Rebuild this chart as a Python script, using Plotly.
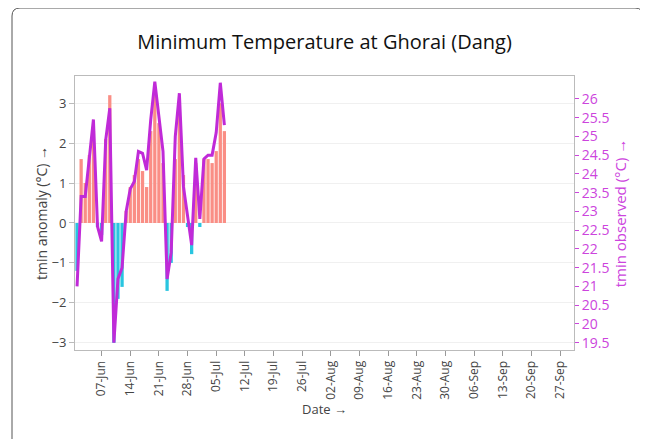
import plotly.graph_objects as go
import pandas as pd

# ---- data ----
dates = pd.date_range("2024-06-01", "2024-07-07", freq="D")
anomaly = [-1.2, 1.6, 1.0, 1.7, 2.3, -0.1, -0.3, 2.1, 3.2, -3.0,
           -1.9, -1.6, 0.3, 0.9, 1.2, 1.6, 1.3, 0.9, 2.3, 3.2,
           2.5, 1.5, -1.7, -1.0, 1.6, 2.9, 1.2, -0.1, -0.78, 1.5,
           -0.1, 1.6, 1.6, 1.5, 1.8, 3.0, 2.3]
observed = [21.0, 23.4, 23.4, 24.4, 25.45, 22.6, 22.2, 24.9, 25.75, 19.5,
            21.2, 21.5, 23.0, 23.6, 23.8, 24.6, 24.55, 24.1, 25.44, 26.46,
            25.6, 24.6, 21.2, 21.9, 25.0, 26.15, 23.66, 22.8, 22.1, 24.43,
            22.8, 24.4, 24.5, 24.5, 25.1, 26.43, 25.3]
y2_ticks = [19.5, 20, 20.5, 21, 21.5, 22, 22.5, 23, 23.5, 24, 24.5, 25, 25.5, 26]
title_text = "Minimum Temperature at Ghorai (Dang)"

# page body adds an 8px offset; work in screen pixels minus that offset
OFF = 8
W, H = 648 - OFF, 439 - OFF
L, T = 75 - OFF, 76 - OFF
R = W - (574 - OFF)
B = H - (350 - OFF)
pw, ph = W - L - R, H - T - B

def px(x):
    return (x - OFF - L) / pw

def py(y):
    return (H - B - (y - OFF)) / ph

bar_colors = ["#FA8E85" if v >= 0 else "#29C5E0" for v in anomaly]

fig = go.Figure()
fig.add_trace(go.Bar(x=dates, y=anomaly, marker_color=bar_colors,
                     marker_line_width=0, showlegend=False, yaxis="y"))
fig.add_trace(go.Scatter(x=dates, y=observed, mode="lines",
                         line=dict(color="#C02AD8", width=3),
                         showlegend=False, yaxis="y2"))

def rounded_top(x0, y0, x1, y1, r):
    return " ".join([
        f"M{px(x0)},{py(y1)}",
        f"L{px(x0)},{py(y0 + r)}",
        f"Q{px(x0)},{py(y0)} {px(x0 + r)},{py(y0)}",
        f"L{px(x1 - r)},{py(y0)}",
        f"Q{px(x1)},{py(y0)} {px(x1)},{py(y0 + r)}",
        f"L{px(x1)},{py(y1)}",
    ])

shapes = [
    dict(type="path", xref="paper", yref="paper",
         path=rounded_top(12, 8, 643, 460, 8),
         line=dict(color="#555555", width=1)),
]

fig.update_layout(
    width=W, height=H,
    margin=dict(l=L, r=R, t=T, b=B, autoexpand=False),
    paper_bgcolor="white", plot_bgcolor="white",
    font=dict(family="Open Sans", color="#444444", size=12),
    title=dict(text=title_text, x=0.5, xref="paper", y=1 - (42 - OFF) / H, yanchor="middle",
               font=dict(size=20, color="#111111")),
    bargap=0.2,
    shapes=shapes,
    xaxis=dict(
        type="date", automargin=True,
        range=["2024-05-31 12:00", "2024-09-30 10:00"],
        tick0="2024-06-07", dtick=7 * 86400000, tickformat="%d-%b",
        tickangle=-90, ticks="outside", ticklen=5, tickcolor="#999999",
        showgrid=False, showline=True, linecolor="#bbbbbb", mirror=True,
        title=dict(text="Date →", font=dict(size=13), standoff=0),
        tickfont=dict(size=12),
    ),
    yaxis=dict(
        automargin=True,
        range=[-3.18, 3.68], dtick=1, showgrid=True, gridcolor="#f0f0f0",
        zeroline=False, showline=True, linecolor="#bbbbbb", mirror=True,
        ticks="outside", ticklen=5, tickcolor="#bbbbbb",
        title=dict(text="tmin anomaly (°C) →", font=dict(size=14), standoff=0),
        tickfont=dict(size=13),
    ),
    yaxis2=dict(
        automargin=True,
        overlaying="y", side="right",
        range=[19.305, 26.61], tickmode="array", tickvals=y2_ticks,
        showgrid=False, zeroline=False,
        ticks="outside", ticklen=4, tickcolor="#cc44dd",
        tickfont=dict(size=14, color="#cc44dd"),
        title=dict(text="tmin observed (°C) →", font=dict(size=15, color="#cc44dd"), standoff=0),
    ),
)

fig.write_html("out.html")
